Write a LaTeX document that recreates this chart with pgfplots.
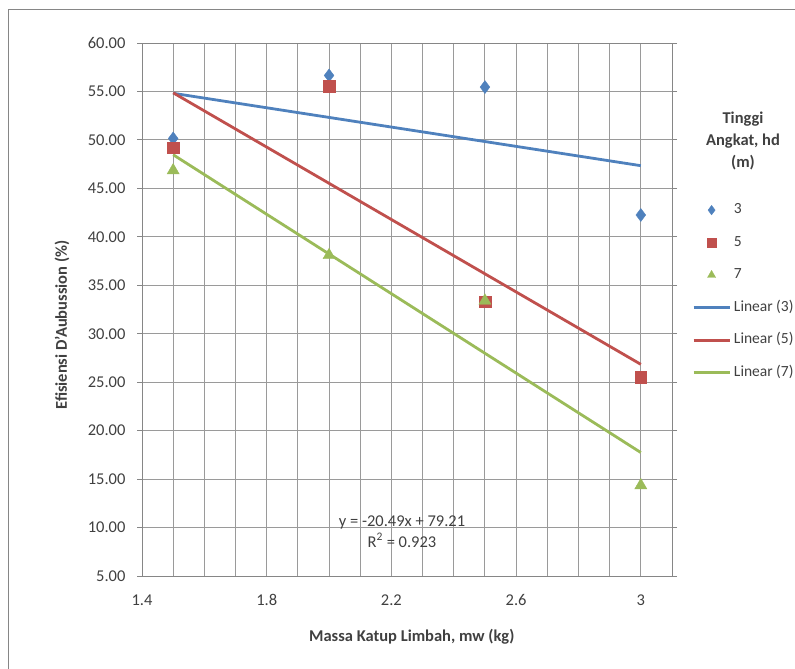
\documentclass[border=0pt]{standalone}
\usepackage{pgfplots}
\pgfplotsset{compat=1.18}
\usepackage{fontspec}
\setmainfont{Carlito}
\definecolor{c3}{HTML}{4F81BD}
\definecolor{c5}{HTML}{C0504D}
\definecolor{c7}{HTML}{9BBB59}
\definecolor{gridc}{HTML}{9A9A9A}
\definecolor{axc}{HTML}{868686}
\definecolor{txt}{HTML}{404040}
\begin{document}
\begin{tikzpicture}[x=1pt,y=1pt]
\path[use as bounding box] (0,0) rectangle (795,669);
\draw[axc, line width=1pt] (8,-2) -- (8,659) -- (797,659);
\begin{axis}[
  at={(142pt,93pt)}, anchor=south west,
  scale only axis, width=530pt, height=533pt,
  xmin=1.4, xmax=3.1, ymin=5, ymax=60,
  xtick={1.4,1.8,2.2,2.6,3}, xticklabels={1.4,1.8,2.2,2.6,3},
  minor xtick={1.5,1.6,1.7,1.9,2.0,2.1,2.3,2.4,2.5,2.7,2.8,2.9,3.1},
  ytick={5,10,15,20,25,30,35,40,45,50,55,60},
  yticklabel={\pgfmathprintnumber[fixed,fixed zerofill,precision=2]{\tick}},
  /pgf/number format/assume math mode=true,
  grid=both,
  major grid style={gridc, line width=0.9pt},
  minor grid style={gridc, line width=0.9pt},
  axis line style={axc, line width=0.9pt},
  xtick style={draw=none}, minor x tick style={draw=none},
  ytick style={axc, line width=0.9pt},
  tick align=outside, major tick length=5pt,
  tick label style={font=\fontsize{16.5}{20}\selectfont, text=txt},
  yticklabel style={xshift=-8pt},
  xticklabel style={yshift=-10pt},
  xlabel={Massa Katup Limbah, mw (kg)},
  ylabel={Efisiensi D'Aubussion (\%)},
  every axis x label/.style={at={(axis description cs:0.509,-0.114)}, anchor=center, font=\bfseries\fontsize{16.5}{20}\selectfont, text=txt},
  every axis y label/.style={at={(axis description cs:-0.151,0.471)}, rotate=90, anchor=center, font=\bfseries\fontsize{16.5}{20}\selectfont, text=txt},
  legend style={at={(axis description cs:1.0377,0.699)}, anchor=north west, draw=none, fill=none,
    inner sep=0pt, row sep=19.5pt, font=\fontsize{15.5}{19}\selectfont, text=txt,
    nodes={inner sep=0pt, text height=10pt, text depth=3pt},
    /tikz/every odd column/.append style={column sep=3pt}},
  legend cell align=left,
  legend image code/.code={\draw[mark repeat=2,mark phase=2,#1] plot coordinates {(0pt,0pt)(18pt,0pt)(36pt,0pt)};},
  legend image post style={mark size=4.7pt},
  clip=false,
]
\addplot[only marks, mark=diamond*, mark size=6.5pt, color=c3] coordinates {(1.5,50.15) (2.0,56.65) (2.5,55.45) (3.0,42.25)};
\addlegendentry{3}
\addplot[only marks, mark=square*, mark size=5.8pt, color=c5] coordinates {(1.5,49.2) (2.0,55.55) (2.5,33.3) (3.0,25.5)};
\addlegendentry{5}
\addplot[only marks, mark=triangle*, mark size=7pt, color=c7] coordinates {(1.5,46.85) (2.0,38.1) (2.5,33.4) (3.0,14.35)};
\addlegendentry{7}
\addplot[no marks, c3, line width=2.8pt] coordinates {(1.5,54.81) (3.0,47.34)};
\addlegendentry{Linear (3)}
\addplot[no marks, c5, line width=2.8pt] coordinates {(1.5,54.86) (3.0,26.84)};
\addlegendentry{Linear (5)}
\addplot[no marks, c7, line width=2.8pt] coordinates {(1.5,48.47) (3.0,17.74)};
\addlegendentry{Linear (7)}
\node[align=center, font=\fontsize{16.5}{21}\selectfont, text=txt] at (axis cs:2.234,9.6) {y = -20.49x + 79.21\\R\textsuperscript{2} = 0.923};
\end{axis}
\node[align=center, font=\bfseries\fontsize{16.5}{22}\selectfont, text=txt] at (743,528) {Tinggi\\Angkat, hd\\(m)};
\end{tikzpicture}
\end{document}
